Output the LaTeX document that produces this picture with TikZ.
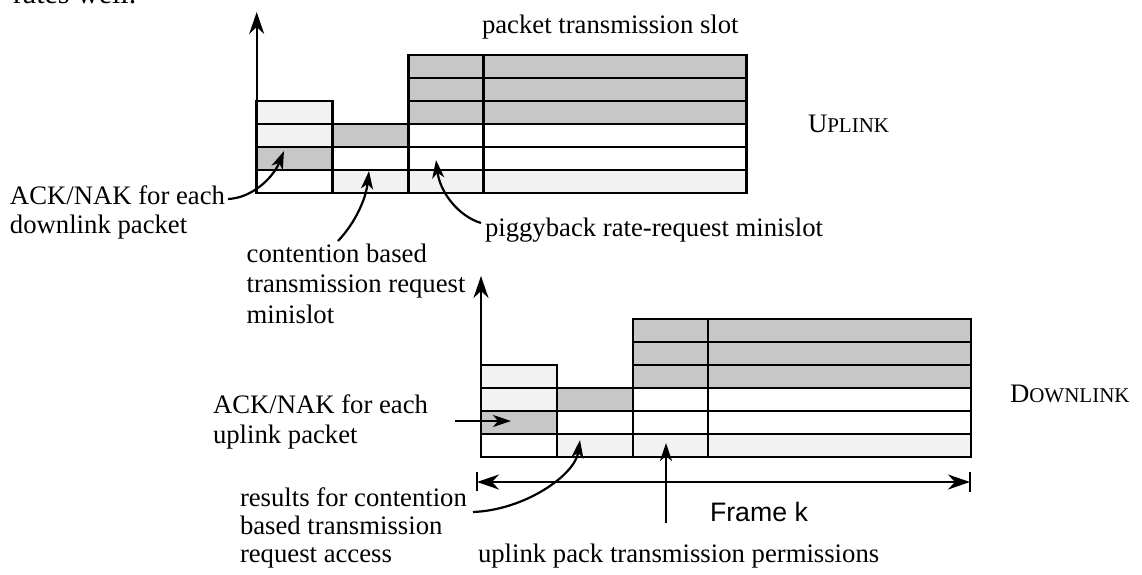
\documentclass[tikz,border=0pt]{standalone}
\usepackage{fontspec}
\setmainfont{Liberation Serif}
\newfontfamily\framefont{Liberation Sans}
\usetikzlibrary{arrows.meta}
\newcommand\fakesc[2]{#1{\fontsize{10.5}{12}\selectfont #2}}
% grid: #1,#2 = bottom-left corner, #3 = name prefix
\newcommand\slotgrid[3]{%
\begin{scope}[shift={(#1,#2)}]
  % shading
  \fill[shadeA] (0,-23) rectangle (76,-46);
  \fill[shadeB] (0,-46) rectangle (76,-92);
  \fill[shadeB] (76,0) rectangle (152,-23);
  \fill[shadeA] (76,-46) rectangle (152,-69);
  \fill[shadeB] (152,0) rectangle (490,-23);
  \fill[shadeA] (152,-69) rectangle (490,-138);
  % inner lines
  \draw[gridline] (0,-23) -- (490,-23);
  \draw[gridline] (0,-46) -- (490,-46);
  \draw[gridline] (0,-69) -- (490,-69);
  \draw[gridline] (152,-92) -- (490,-92);
  \draw[gridline] (152,-115) -- (490,-115);
  \draw[gridline] (76,0) -- (76,-92);
  \draw[gridline] (152,0) -- (152,-138);
  \draw[gridline] (227,0) -- (227,-138);
  % outline
  \draw[outline] (0,0) -- (0,-92) -- (76,-92) -- (76,-69) -- (152,-69)
     -- (152,-138) -- (490,-138) -- (490,0) -- cycle;
  % axis
  \coordinate (#3base) at (0,0);
  \coordinate (#3top) at (0,-181);
  \draw[axis] (#3base) -- (#3top);
\end{scope}}
\begin{document}
\begin{tikzpicture}[x=0.5pt,y=-0.5pt,
  lbl/.style={inner sep=0pt, outer sep=0pt, align=left},
  gridline/.style={line width=1.25pt},
  outline/.style={line width=1.45pt, line join=miter},
  shadeA/.style={fill=black!22},
  shadeB/.style={fill=black!5},
  ptr/.style={line width=1.1pt, -{Stealth[length=9pt,width=6pt,inset=2.5pt]}},
  axis/.style={line width=1.1pt, -{Stealth[length=11pt,width=7.5pt,inset=3.5pt]}},
  bigtip/.style={line width=1.1pt, {Stealth[length=11pt,width=7.5pt,inset=3.5pt]}-{Stealth[length=11pt,width=7.5pt,inset=3.5pt]}}]
\useasboundingbox (0,0) rectangle (1142,574);

% cut-off running text at the top
\node[lbl, anchor=base west, font=\fontsize{15}{18}\selectfont] (rates) at (13,3) {rates well.};

% grids
\slotgrid{256.7}{193}{up}
\slotgrid{481}{457}{dn}

% uplink labels
\node[lbl, anchor=base west, font=\fontsize{13.35}{15}\selectfont] (slot) at (482,33) {packet transmission slot};
\node[lbl, anchor=base west, font=\fontsize{13.35}{15}\selectfont] (uplink) at (808,132) {\fakesc{U}{PLINK}};
\node[lbl, anchor=north west, font=\fontsize{13.35}{14.5}\selectfont] (ackU) at (10,185.5) {ACK/NAK for each\\downlink packet};
\node[lbl, anchor=north west, font=\fontsize{13.35}{15.25}\selectfont] (contU) at (246.7,243.5) {contention based\\transmission request\\minislot};
\node[lbl, anchor=base west, font=\fontsize{13.35}{15}\selectfont] (piggy) at (485,236) {piggyback rate-request minislot};

% downlink labels
\node[lbl, anchor=base west, font=\fontsize{13.35}{15}\selectfont] (downlink) at (1010,402) {\fakesc{D}{OWNLINK}};
\node[lbl, anchor=north west, font=\fontsize{13.35}{15}\selectfont] (ackD) at (213,394.5) {ACK/NAK for each\\uplink packet};
\node[lbl, anchor=north west, font=\fontsize{13.35}{14}\selectfont] (resD) at (240,488) {results for contention\\based transmission\\request access};
\node[lbl, anchor=base west, font=\fontsize{13.35}{15}\selectfont] (permD) at (478,562.5) {uplink pack transmission permissions};
\node[lbl, anchor=base west, font=\framefont\fontsize{13.35}{15}\selectfont] (frame) at (710,521.7) {Frame k};

% pointer coordinates
\coordinate (ackUs) at (228,199);
\coordinate (ackUt) at (284,151);
\coordinate (contUs) at (338,241);
\coordinate (contUt) at (369,171);
\coordinate (piggys) at (481,223);
\coordinate (piggyt) at (436,160);
\coordinate (ackDs) at (455,421);
\coordinate (ackDt) at (511,421);
\coordinate (resDs) at (473,512);
\coordinate (resDt) at (580,440);
\coordinate (permDs) at (666,523);
\coordinate (permDt) at (666,443);

\draw[ptr] (ackUs) .. controls (252,198) and (273,178) .. (ackUt);
\draw[ptr] (contUs) .. controls (356,222) and (366,198) .. (contUt);
\draw[ptr] (piggys) .. controls (458,216) and (440,192) .. (piggyt);
\draw[ptr] (ackDs) -- (ackDt);
\draw[ptr] (resDs) .. controls (525,510) and (575,475) .. (resDt);
\draw[ptr] (permDs) -- (permDt);

% frame k dimension arrow
\coordinate (fl) at (477,482);
\coordinate (fr) at (970,482);
\coordinate (flt) at (477,472);
\coordinate (flb) at (477,491);
\coordinate (frt) at (970,472);
\coordinate (frb) at (970,492);
\draw[line width=1.2pt] (flt) -- (flb);
\draw[line width=1.2pt] (frt) -- (frb);
\draw[bigtip] (fl) -- (fr);
\end{tikzpicture}
\end{document}
